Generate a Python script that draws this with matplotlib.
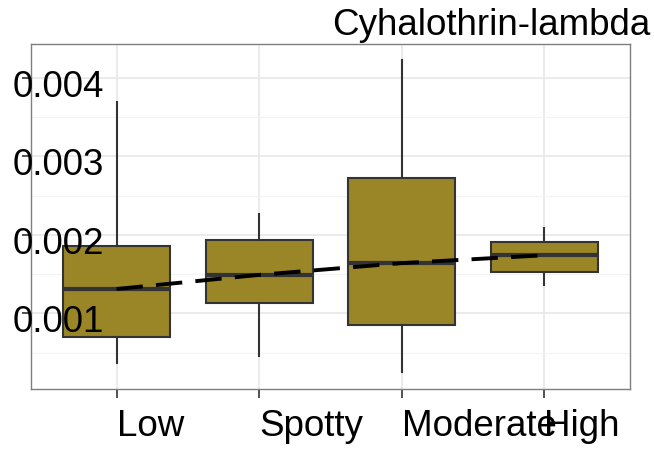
import matplotlib
matplotlib.use("Agg")
import matplotlib.pyplot as plt
import matplotlib.transforms as mtransforms
from matplotlib.ticker import MultipleLocator

plt.rcParams['font.family'] = ['Liberation Sans', 'DejaVu Sans']
plt.rcParams['lines.scale_dashes'] = False

# Data: five-number summaries per infestation level
categories = ["Low", "Spotty", "Moderate", "High"]
whisker_low = [0.00037, 0.00045, 0.00025, 0.00136]
q1 = [0.00070, 0.00113, 0.00085, 0.00153]
median = [0.00131, 0.00149, 0.00164, 0.00174]
q3 = [0.00186, 0.00194, 0.00272, 0.00191]
whisker_high = [0.00370, 0.00227, 0.00423, 0.00209]
y_ticks = [0.001, 0.002, 0.003, 0.004]
y_tick_labels = ["0.001", "0.002", "0.003", "0.004"]
title = "Cyhalothrin-lambda"

FS = 26.5
fill = "#9a8627"
edge = "#333333"

fig = plt.figure(figsize=(6.54, 4.49), dpi=100)
ax = fig.add_axes([31 / 654, 1 - 389 / 449, (630 - 31) / 654, (389 - 44) / 449])

positions = list(range(len(categories)))
stats = []
for i, name in enumerate(categories):
    stats.append(dict(label=name, whislo=whisker_low[i], q1=q1[i], med=median[i],
                      q3=q3[i], whishi=whisker_high[i], fliers=[]))

ax.bxp(stats, positions=positions, widths=0.75, patch_artist=True,
       showcaps=False, showfliers=False,
       boxprops=dict(facecolor=fill, edgecolor=edge, linewidth=1.5),
       medianprops=dict(color=edge, linewidth=3.0),
       whiskerprops=dict(color=edge, linewidth=1.5),
       zorder=3)

# Trend of medians across levels
ax.plot(positions, median, color="black", linewidth=2.8,
        dashes=[19, 9.5], zorder=5, solid_capstyle="butt", dash_capstyle="butt")

ax.set_xlim(-0.6, 3.6)
ax.set_ylim(0.0000347, 0.004434)

ax.set_xticks(positions)
ax.set_xticklabels(categories, fontsize=FS, ha="left")
ax.set_yticks(y_ticks)
ax.set_yticklabels([])
ax.yaxis.set_minor_locator(MultipleLocator(0.0005))

# y labels drawn as texts so they sit above the boxes
label_tr = ax.get_yaxis_transform() + mtransforms.ScaledTranslation(0, -19 / 100, fig.dpi_scale_trans)
for v, lab in zip(y_ticks, y_tick_labels):
    ax.text(-18 / 599, v, lab, transform=label_tr, fontsize=FS, ha="left",
            va="baseline", zorder=10, clip_on=False)

ax.tick_params(axis="x", length=6.5, width=1.1, color="#222222", pad=8)
ax.tick_params(axis="y", which="major", length=6.5, width=1.1, color="#222222")
ax.tick_params(axis="y", which="minor", length=0)

ax.set_facecolor("white")
ax.grid(True, which="major", color="#e6e6e6", linewidth=1.1, zorder=0)
ax.grid(True, which="minor", axis="y", color="#f3f3f3", linewidth=0.8, zorder=0)
ax.set_axisbelow(True)
for s in ax.spines.values():
    s.set_color("#7f7f7f")
    s.set_linewidth(1.0)

fig.text(650 / 654, 1 - 35 / 449, title, fontsize=FS, ha="right", va="baseline")

fig.savefig("out.png", dpi=100)
